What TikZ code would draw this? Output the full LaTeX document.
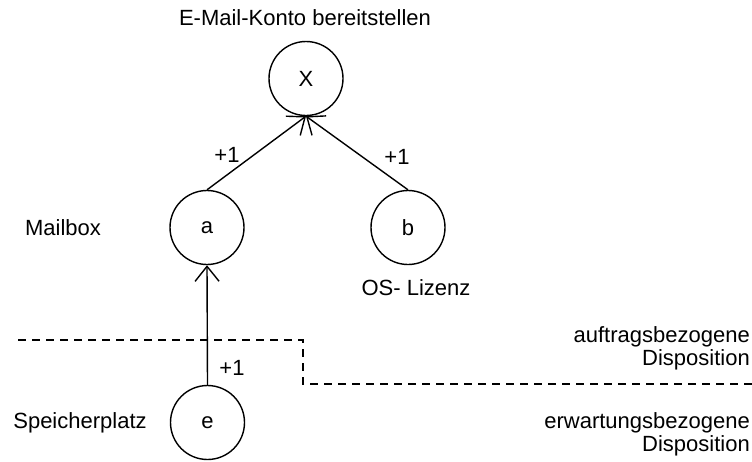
\documentclass[tikz,border=0pt]{standalone}
\usepackage{fontspec}
\setmainfont{Liberation Sans}
\usetikzlibrary{arrows.meta}
\begin{document}
\begin{tikzpicture}[x=1pt,y=-1pt,
  every node/.style={font=\fontsize{22}{23}\selectfont},
  goal/.style={circle,draw,line width=1.4pt,minimum size=74pt,inner sep=0pt},
  rel/.style={line width=1.4pt,-{Straight Barb[length=15pt,width=24pt,line width=1.4pt]}},
  sep/.style={line width=1.4pt,dash pattern=on 8pt off 6pt},
  lbl/.style={inner sep=0pt}]
\useasboundingbox (0,0) rectangle (752,461);

% goal tree
\node[goal] (X) at (306,78.5) {X};
\node[goal] (a) at (207,227.5) {a};
\node[goal] (b) at (408,227.5) {b};
\node[goal] (e) at (207.5,422.5) {e};

\draw[rel] (a.north) -- (X.south);
\draw[rel] (b.north) -- (X.south);
\draw[rel] (e.north) -- (a.south);

% weights
\node[lbl] (w1) at (227,155) {+1};
\node[lbl] (w2) at (397,157) {+1};
\node[lbl] (w3) at (232,368) {+1};

% element names
\node[lbl] (tX) at (305,18) {E-Mail-Konto bereitstellen};
\node[lbl] (ta) at (63,228) {Mailbox};
\node[lbl] (tb) at (416,288) {OS- Lizenz};
\node[lbl] (te) at (80,423) {Speicherplatz};

% boundary between the two kinds of disposition
\coordinate (s1) at (18,340);
\coordinate (s2) at (303,340);
\coordinate (s3) at (303,384);
\coordinate (s4) at (752,384);
\draw[sep] (s1) -- (s2) -- (s3) -- (s4);

\node[lbl,align=right,anchor=east] (d1) at (750,348.5) {auftragsbezogene\\Disposition};
\node[lbl,align=right,anchor=east] (d2) at (750,434) {erwartungsbezogene\\Disposition};
\end{tikzpicture}
\end{document}
